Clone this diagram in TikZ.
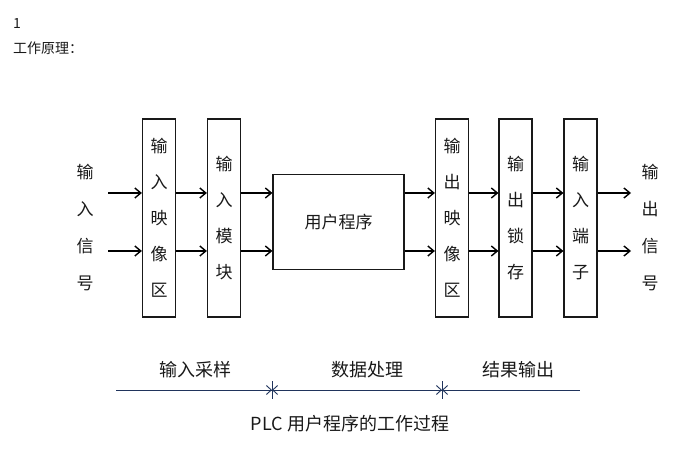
\documentclass[tikz,border=0pt]{standalone}
\usepackage{fontspec}
\setmainfont{Noto Sans CJK SC}
\definecolor{linenavy}{RGB}{32,52,92}
\definecolor{textgray}{RGB}{25,25,25}
\usetikzlibrary{arrows.meta, positioning}

\begin{document}
\begin{tikzpicture}[x=1pt, y=-1pt,
  stagebox/.style={draw=black!90, line width=1.2pt, minimum width=33pt,
    minimum height=198pt, inner sep=0pt, align=center, text=textgray,
    font=\fontsize{17}{36}\selectfont},
  sigtext/.style={align=center, text=textgray, inner sep=0pt,
    font=\fontsize{17}{37}\selectfont},
  sig/.style={-{Straight Barb[length=6pt, width=10pt, line width=1.4pt]},
    line width=1.4pt, black},
  phase/.style={text=textgray, font=\fontsize{18}{20}\selectfont},
  tick/.style={-{Straight Barb[length=5pt, width=9pt]}, line width=0.9pt, linenavy},
]
\useasboundingbox (0,0) rectangle (697,454);

% heading
\node[anchor=west, inner sep=0pt, text=textgray, font=\fontsize{14}{16}\selectfont] (num) at (13,24) {1};
\node[anchor=west, inner sep=0pt, text=textgray, font=\fontsize{14}{16}\selectfont] (head) at (13,48) {工作原理：};

% rows of the two signal lines
\coordinate (up) at (0,193);
\coordinate (dn) at (0,251);

% stages
\node[sigtext] (insig) at (85,227.5) {输\\入\\信\\号};
\node[stagebox] (inmap) at (159,218) {输\\入\\映\\像\\区};
\node[stagebox] (inmod) at (224,218) {输\\入\\模\\块};
\node[draw=black!90, line width=1.2pt, minimum width=131pt, minimum height=95pt,
  text=textgray, font=\fontsize{17}{20}\selectfont] (prog) at (338.5,222) {用户程序};
\node[stagebox] (outmap) at (452,218) {输\\出\\映\\像\\区};
\node[stagebox] (latch) at (515.5,218) {输\\出\\锁\\存};
\node[stagebox] (term) at (580.5,218) {输\\入\\端\\子};
\node[sigtext] (outsig) at (650,227.5) {输\\出\\信\\号};

% free ends of the outer arrows
\coordinate (inup) at (108,193);
\coordinate (indn) at (108,251);
\coordinate (outup) at (631,193);
\coordinate (outdn) at (631,251);

% arrows
\draw[sig] (inup) -- (inmap.west |- up);
\draw[sig] (indn) -- (inmap.west |- dn);
\draw[sig] (inmap.east |- up) -- (inmod.west |- up);
\draw[sig] (inmap.east |- dn) -- (inmod.west |- dn);
\draw[sig] (inmod.east |- up) -- (prog.west |- up);
\draw[sig] (inmod.east |- dn) -- (prog.west |- dn);
\draw[sig] (prog.east |- up) -- (outmap.west |- up);
\draw[sig] (prog.east |- dn) -- (outmap.west |- dn);
\draw[sig] (outmap.east |- up) -- (latch.west |- up);
\draw[sig] (outmap.east |- dn) -- (latch.west |- dn);
\draw[sig] (latch.east |- up) -- (term.west |- up);
\draw[sig] (latch.east |- dn) -- (term.west |- dn);
\draw[sig] (term.east |- up) -- (outup);
\draw[sig] (term.east |- dn) -- (outdn);

% time line
\coordinate (tstart) at (116,390);
\coordinate (ta) at (272,390);
\coordinate (tb) at (442,390);
\coordinate (tend) at (580,390);
\draw[line width=0.9pt, linenavy] (tstart) -- (tend);
\foreach \t in {ta, tb} {
  \draw[line width=0.9pt, linenavy] ([yshift=-9pt]\t) -- ([yshift=9pt]\t);
  \draw[tick] ([xshift=-9pt]\t) -- (\t);
  \draw[tick] ([xshift=9pt]\t) -- (\t);
}

\node[phase] (sample) at (195,370) {输入采样};
\node[phase] (exec) at (367,370) {数据处理};
\node[phase] (output) at (518,370) {结果输出};
\node[phase] (caption) at (350,424) {PLC 用户程序的工作过程};
\end{tikzpicture}
\end{document}
